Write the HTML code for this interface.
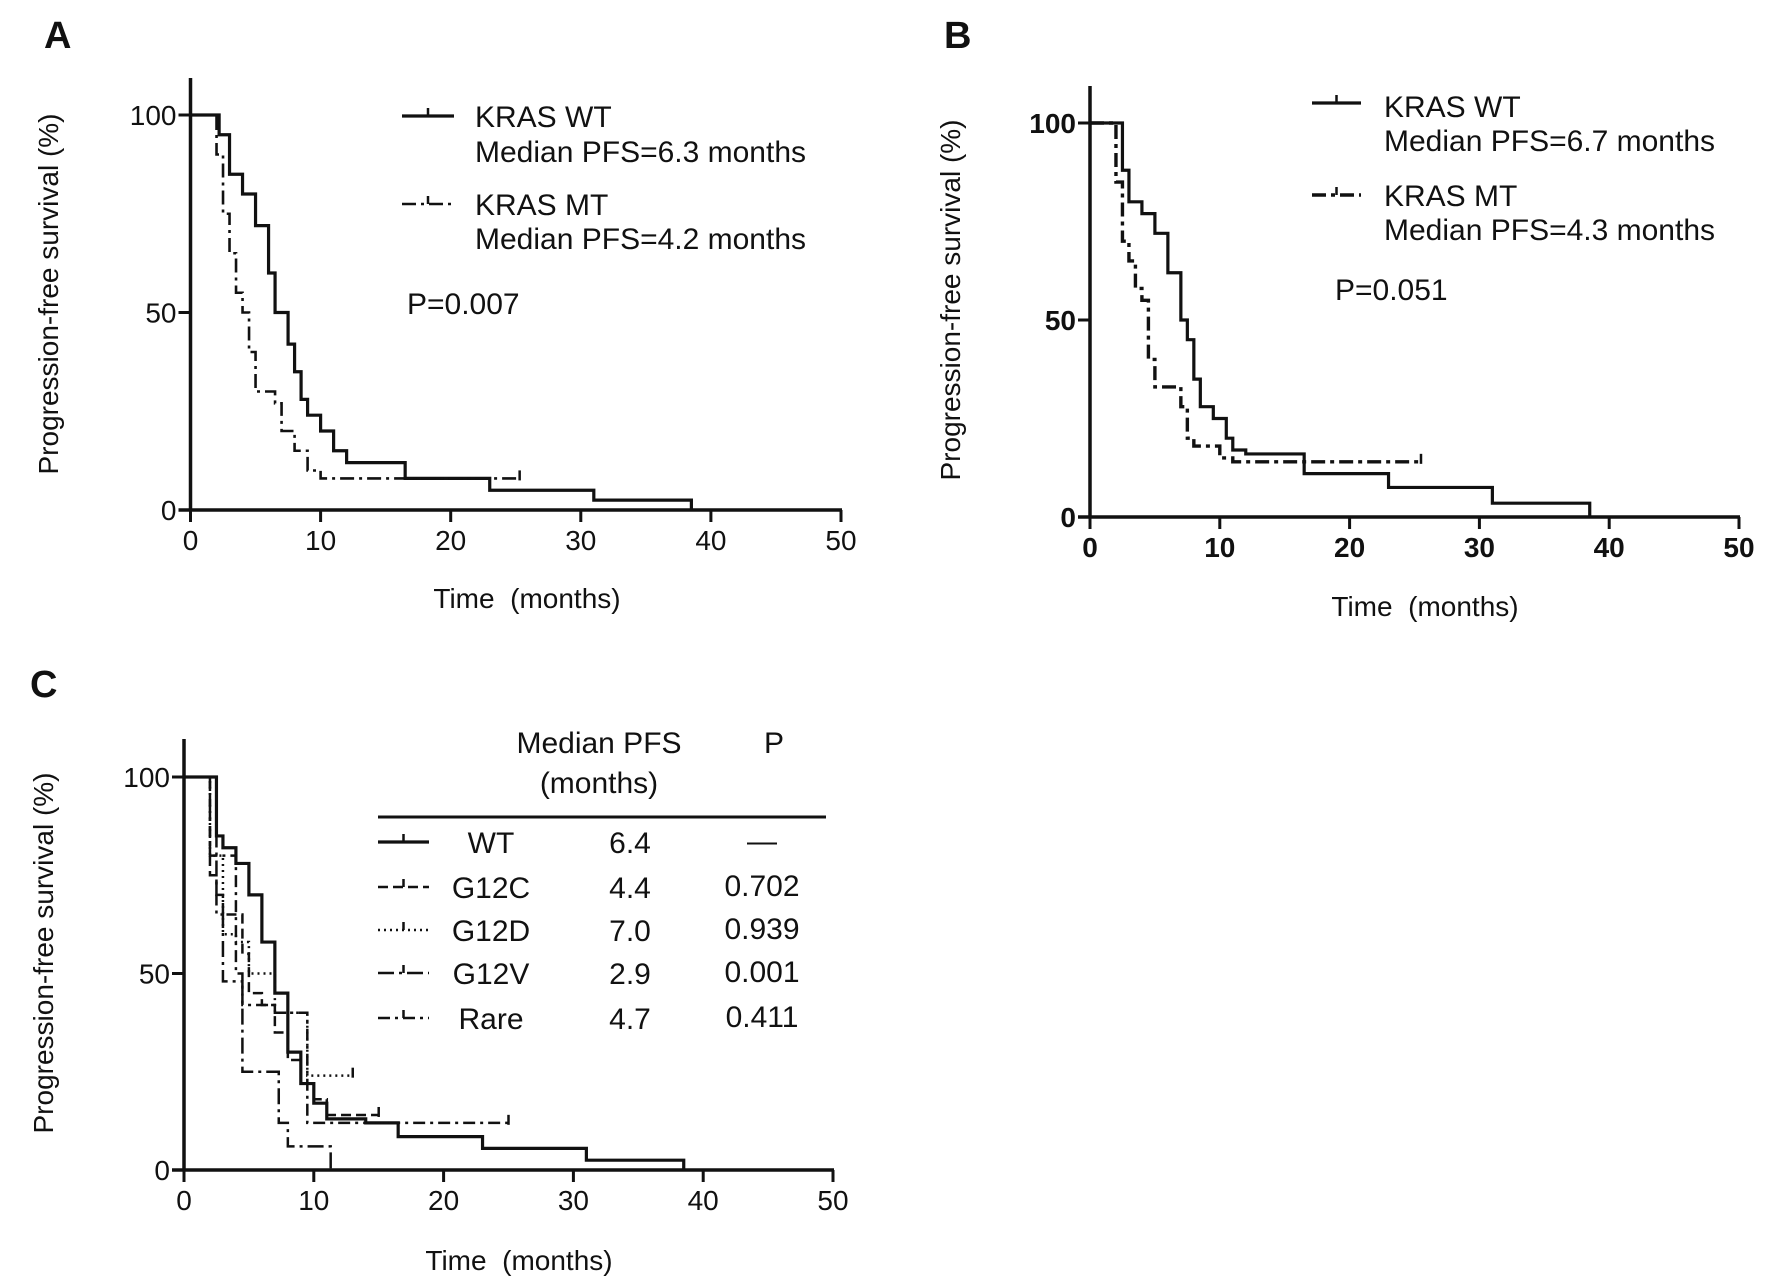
<!DOCTYPE html>
<html><head><meta charset="utf-8"><style>
html,body{margin:0;padding:0;background:#fff;}
svg{display:block;font-family:"Liberation Sans",Arial,sans-serif;}
</style></head><body>
<svg id="fig" width="1772" height="1281" viewBox="0 0 1772 1281" xmlns="http://www.w3.org/2000/svg">
<g id="root"></g>
</svg>
<script>
// ---- Data (time in months, survival %) ----
const xTicks = [0,10,20,30,40,50];
const yTicks = [0,50,100];
// Panel A
const aWtTime = [0,2,2.2,3,4,5,6,6.5,7.5,8,8.5,9,10,11,12,16.5,23,31,38.5];
const aWtSurv = [100,100,95,85,80,72,60,50,42,35,28,24,20,15,12,8,5,2.5,0];
const aWtEnd = 38.5;
const aMtTime = [0,1.8,2,2.5,3,3.5,4,4.5,5,6.5,7,8,9,10];
const aMtSurv = [100,100,90,75,65,55,50,40,30,27,20,15,10,8];
const aMtEnd = 25.3;
// Panel B
const bWtTime = [0,2,2.5,3,4,5,6,7,7.5,8,8.5,9.5,10.5,11,12,16.5,23,31,38.5];
const bWtSurv = [100,100,88,80,77,72,62,50,45,35,28,25,20,17,16,11,7.5,3.5,0];
const bWtEnd = 38.5;
const bMtTime = [0,1.8,2,2.5,3,3.5,4,4.5,5,7,7.5,8,10,11];
const bMtSurv = [100,100,85,70,65,58,55,40,33,28,20,18,15,14];
const bMtEnd = 25.5;
// Panel C
const cWtTime = [0,2,2.5,3,4,5,6,7,8,9,10,11,14,16.5,23,31,38.5];
const cWtSurv = [100,100,85,82,78,70,58,45,30,22,17,13,12,8.5,5.5,2.5,0];
const cWtEnd = 38.5;
const cG12cTime = [0,1.5,2,2.5,3,4.5,5,6,7,8,9,10,11];
const cG12cSurv = [100,100,75,70,65,55,45,42,35,28,22,18,14];
const cG12cEnd = 15;
const cG12dTime = [0,1.5,2,3,4,5,7,9.5];
const cG12dSurv = [100,100,80,60,58,50,40,24];
const cG12dEnd = 13;
const cG12vTime = [0,1.5,2.5,3,4.5,7,7.3,8,11.3];
const cG12vSurv = [100,100,65,48,25,25,12,6,0];
const cG12vEnd = 11.3;
const cRareTime = [0,1.5,2,4,4.5,7,9.5];
const cRareSurv = [100,100,80,50,42,40,12];
const cRareEnd = 25;

const NS="http://www.w3.org/2000/svg";
const root=document.getElementById('root');
function mk(tag,attrs,parent){const e=document.createElementNS(NS,tag);for(const k in attrs)e.setAttribute(k,attrs[k]);(parent||root).appendChild(e);return e;}
function txt(s,x,y,size,weight,anchor,parent,name){const t=mk('text',{x:x,y:y,'font-size':size,'font-weight':weight||'normal','text-anchor':anchor||'start',fill:'#111'},parent);t.textContent=s;


return t;}

function panel(cfg){
  const g=mk('g',{});
  
  
  const sx=v=>cfg.x0+(v/50)*(cfg.x1-cfg.x0);
  const sy=v=>cfg.y0+(v/100)*(cfg.y100-cfg.y0);
  const bw=cfg.bold?'bold':'normal';
  const ya=mk('line',{x1:cfg.x0,y1:cfg.ytop,x2:cfg.x0,y2:cfg.y0+1,stroke:'#111','stroke-width':3.5},g);
  
  
  const xa=mk('line',{x1:cfg.x0-12,y1:cfg.y0,x2:cfg.x1+1,y2:cfg.y0,stroke:'#111','stroke-width':3.5},g);
  
  
  xTicks.forEach(t=>{
    const l=mk('line',{x1:sx(t),y1:cfg.y0,x2:sx(t),y2:cfg.y0+12,stroke:'#111','stroke-width':3},g);
    
    
    txt(String(t),sx(t),cfg.y0+40,28,bw,'middle',g,'x-tick-label');
  });
  yTicks.forEach(t=>{
    const l=mk('line',{x1:cfg.x0-12,y1:sy(t),x2:cfg.x0,y2:sy(t),stroke:'#111','stroke-width':3},g);
    
    
    txt(String(t),cfg.x0-14,sy(t)+10,28,bw,'end',g,'y-tick-label');
  });
  const yt=txt('Progression-free survival (%)',0,0,28,'normal','middle',g,'y-axis-title');
  yt.setAttribute('transform','translate('+(cfg.ytx)+','+(cfg.yty)+') rotate(-90)');
  const xt=txt('Time\u00a0\u00a0(months)',cfg.xtx,cfg.xty,28,'normal','middle',g,'x-axis-title');
  txt(cfg.letter,cfg.lx,cfg.ly,38,'bold','start',g,'panel-label');
  cfg.series.forEach(s=>{
    let d='M'+sx(s.t[0])+','+sy(s.s[0]);
    for(let i=1;i<s.t.length;i++){d+=' H'+sx(s.t[i])+' V'+sy(s.s[i]);}
    d+=' H'+sx(s.end);
    const p=mk('path',{d:d,fill:'none',stroke:'#111','stroke-width':s.w||3,'stroke-dasharray':s.dash||'none'},g);
    
    
    if(s.s[s.s.length-1]>0){
      const c=mk('line',{x1:sx(s.end),y1:sy(s.s[s.s.length-1])-8,x2:sx(s.end),y2:sy(s.s[s.s.length-1])+2,stroke:'#111','stroke-width':2.5},g);
      
      
    }
  });
  return g;
}

const gA=panel({name:'panel-a',letter:'A',lx:44,ly:48,x0:190.5,x1:841,y0:510,y100:115,ytop:78,ytx:58,yty:294,xtx:527,xty:608,bold:false,
  series:[{name:'curve-a-wt',t:aWtTime,s:aWtSurv,end:aWtEnd,w:3.2},{name:'curve-a-mt',t:aMtTime,s:aMtSurv,end:aMtEnd,w:2.6,dash:'14,5,3,5'}]});
const gB=panel({name:'panel-b',letter:'B',lx:944,ly:48,x0:1090,x1:1739,y0:517,y100:123,ytop:86,ytx:960,yty:300,xtx:1425,xty:616,bold:true,
  series:[{name:'curve-b-wt',t:bWtTime,s:bWtSurv,end:bWtEnd,w:3.2},{name:'curve-b-mt',t:bMtTime,s:bMtSurv,end:bMtEnd,w:3.4,dash:'14,5,4,5'}]});
const gC=panel({name:'panel-c',letter:'C',lx:30,ly:697,x0:184,x1:833,y0:1170,y100:777,ytop:739,ytx:53,yty:953,xtx:519,xty:1270,bold:false,
  series:[{name:'curve-c-wt',t:cWtTime,s:cWtSurv,end:cWtEnd,w:3.2},
          {name:'curve-c-g12c',t:cG12cTime,s:cG12cSurv,end:cG12cEnd,w:2.5,dash:'10,5'},
          {name:'curve-c-g12d',t:cG12dTime,s:cG12dSurv,end:cG12dEnd,w:2.5,dash:'2,4'},
          {name:'curve-c-g12v',t:cG12vTime,s:cG12vSurv,end:cG12vEnd,w:2.5,dash:'16,5,3,5'},
          {name:'curve-c-rare',t:cRareTime,s:cRareSurv,end:cRareEnd,w:2.5,dash:'12,5,3,5'}]});

function legLine(x1,x2,y,dash,w,name,parent){const l=mk('line',{x1:x1,y1:y,x2:x2,y2:y,stroke:'#111','stroke-width':w,'stroke-dasharray':dash||'none'},parent);


const t=mk('line',{x1:(x1+x2)/2,y1:y-8,x2:(x1+x2)/2,y2:y,stroke:'#111','stroke-width':2.5},parent);

}
legLine(402,454,116,null,3.2,'legend-a-wt-line',gA);
txt('KRAS WT',475,127,30,'normal','start',gA,'legend-a-wt');
txt('Median PFS=6.3 months',475,162,30,'normal','start',gA,'legend-a-wt-median');
legLine(402,454,204,'14,5,3,5',2.6,'legend-a-mt-line',gA);
txt('KRAS MT',475,215,30,'normal','start',gA,'legend-a-mt');
txt('Median PFS=4.2 months',475,249,30,'normal','start',gA,'legend-a-mt-median');
txt('P=0.007',407,314,30,'normal','start',gA,'p-value-a');

legLine(1312,1361,103,null,3.2,'legend-b-wt-line',gB);
txt('KRAS WT',1384,117,30,'normal','start',gB,'legend-b-wt');
txt('Median PFS=6.7 months',1384,151,30,'normal','start',gB,'legend-b-wt-median');
legLine(1312,1361,195,'14,5,4,5',3.4,'legend-b-mt-line',gB);
txt('KRAS MT',1384,206,30,'normal','start',gB,'legend-b-mt');
txt('Median PFS=4.3 months',1384,240,30,'normal','start',gB,'legend-b-mt-median');
txt('P=0.051',1335,300,30,'normal','start',gB,'p-value-b');

txt('Median PFS',599,753,30,'normal','middle',gC,'legend-c-header-median');
txt('(months)',599,793,30,'normal','middle',gC,'legend-c-header-months');
txt('P',774,753,30,'normal','middle',gC,'legend-c-header-p');
const rule=mk('line',{x1:378,y1:817,x2:826,y2:817,stroke:'#111','stroke-width':3},gC);


const rowNames=['WT','G12C','G12D','G12V','Rare'];
const rowMed=['6.4','4.4','7.0','2.9','4.7'];
const rowP=['—','0.702','0.939','0.001','0.411'];
const rowDash=[null,'10,5','2,4','16,5,3,5','12,5,3,5'];
const rowY=[842,887,930,973,1018];
rowNames.forEach((n,i)=>{
  legLine(378,429,rowY[i],rowDash[i],i?2.6:3.2,'legend-c-line-'+n.toLowerCase(),gC);
  txt(n,491,rowY[i]+11,30,'normal','middle',gC,'legend-c-name');
  txt(rowMed[i],630,rowY[i]+11,30,'normal','middle',gC,'legend-c-median');
  txt(rowP[i],762,rowY[i]+9,30,'normal','middle',gC,'legend-c-p');
});
</script>
</body></html>
